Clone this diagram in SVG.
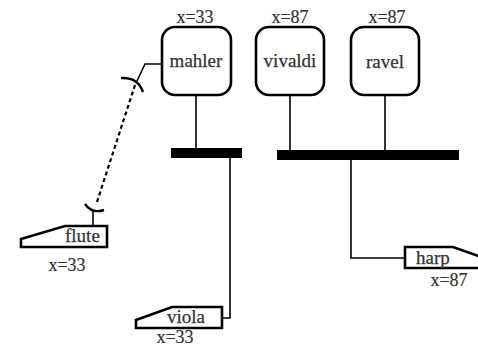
<svg xmlns="http://www.w3.org/2000/svg" width="478" height="348" viewBox="0 0 478 348">
  <style>
    .box { fill: #fff; stroke: #000; stroke-width: 2.6; }
    .part { fill: #fff; stroke: #000; stroke-width: 2.6; stroke-linejoin: miter; }
    .bar { fill: #000; }
    .wire { fill: none; stroke: #000; stroke-width: 1.6; }
    .dep { fill: none; stroke: #000; stroke-width: 2.2; stroke-dasharray: 4 3; }
    .sock { fill: none; stroke: #000; stroke-width: 2.4; }
    .name { font-family: "Liberation Serif", serif; font-size: 19px; fill: #333; stroke: #333; stroke-width: 0.25; }
    .pos { font-family: "Liberation Serif", serif; font-size: 18px; fill: #333; stroke: #333; stroke-width: 0.2; }
  </style>
  <rect width="478" height="348" fill="#fff"/>

  <!-- connectors -->
  <g id="connectors">
    <path class="wire" d="M196,95 V149"/>
    <path class="wire" d="M290,95 V151"/>
    <path class="wire" d="M385,95 V151"/>
    <path class="wire" d="M230,157 V318 H222"/>
    <path class="wire" d="M351,159 V258 H405"/>
    <path class="wire" d="M162,64 H145 L137,81"/>
    <path class="dep" d="M135,85 L96,205"/>
    <path class="sock" d="M121,78 Q138,77 143,92"/>
    <path class="sock" d="M85,204 Q92,214 104,210"/>
    <path class="wire" d="M93,211 V226"/>
  </g>

  <!-- joins -->
  <g id="join1"><rect class="bar" x="171" y="148" width="71" height="10"/></g>
  <g id="join2"><rect class="bar" x="277" y="150" width="182" height="10"/></g>

  <!-- composers -->
  <g id="mahler">
    <rect class="box" x="162" y="27" width="69" height="68" rx="13"/>
    <text class="name" x="196" y="67" text-anchor="middle">mahler</text>
    <text class="pos" x="195" y="23" text-anchor="middle">x=33</text>
  </g>
  <g id="vivaldi">
    <rect class="box" x="256" y="27" width="68" height="68" rx="13"/>
    <text class="name" x="290" y="67" text-anchor="middle">vivaldi</text>
    <text class="pos" x="290" y="23" text-anchor="middle">x=87</text>
  </g>
  <g id="ravel">
    <rect class="box" x="351" y="27" width="68" height="68" rx="13"/>
    <text class="name" x="385" y="68" text-anchor="middle">ravel</text>
    <text class="pos" x="387" y="23" text-anchor="middle">x=87</text>
  </g>

  <!-- instruments -->
  <g id="flute">
    <path class="part" d="M21,239 L65,226 H107 V247 H21 Z"/>
    <text class="name" x="65" y="242">flute</text>
    <text class="pos" x="67" y="271" text-anchor="middle">x=33</text>
  </g>
  <g id="viola">
    <path class="part" d="M136,320 L172,307 H222 V328 H136 Z"/>
    <text class="name" x="167" y="323">viola</text>
    <text class="pos" x="175" y="343" text-anchor="middle">x=33</text>
  </g>
  <g id="harp">
    <path class="part" d="M405,247 H453 L490,260 V268 H405 Z"/>
    <text class="name" x="416" y="264">harp</text>
    <text class="pos" x="449" y="286" text-anchor="middle">x=87</text>
  </g>
</svg>
